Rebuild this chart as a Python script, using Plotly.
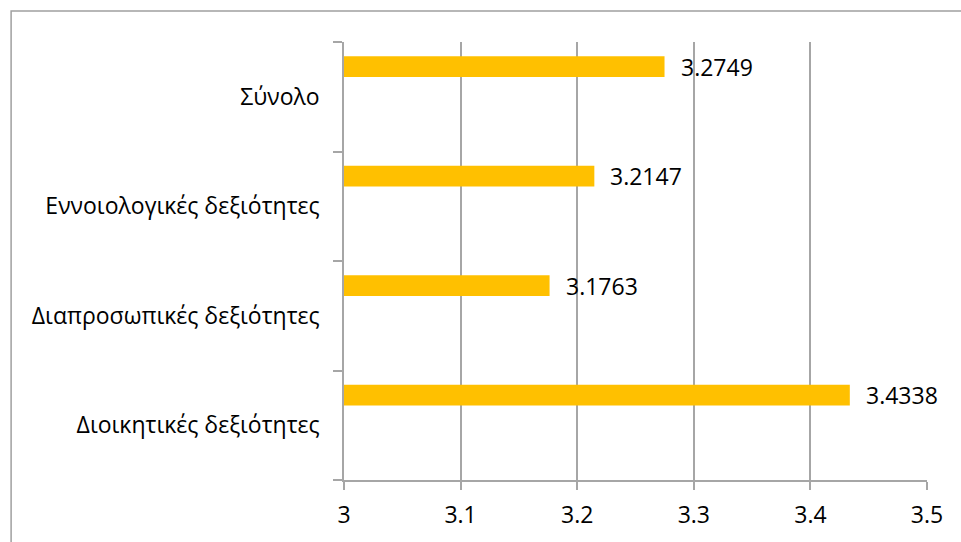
import plotly.graph_objects as go

# Skill categories (bottom to top) and their mean scores
categories = [
    "Διοικητικές δεξιότητες",
    "Διαπροσωπικές δεξιότητες",
    "Εννοιολογικές δεξιότητες",
    "Σύνολο",
]
scores = [3.4338, 3.1763, 3.2147, 3.2749]
x_ticks = [3, 3.1, 3.2, 3.3, 3.4, 3.5]

BAR_COLOR = "#FFC000"
GRID_COLOR = "#A6A6A6"
FONT = "Open Sans, Liberation Sans, sans-serif"
FONT_SIZE = 23
BAR_OFFSET = 0.18   # bar sits in the upper part of each category band
BAR_WIDTH = 0.19

fig = go.Figure()
fig.add_trace(go.Bar(
    x=scores,
    y=categories,
    orientation="h",
    marker=dict(color=BAR_COLOR, line=dict(width=0)),
    offset=BAR_OFFSET,
    width=BAR_WIDTH,
    hoverinfo="x+y",
))

# Value labels placed just to the right of each bar end
for i, v in enumerate(scores):
    fig.add_annotation(
        x=v, y=i + BAR_OFFSET + BAR_WIDTH / 2,
        xref="x", yref="y",
        text=f"{v:.4f}",
        showarrow=False,
        xanchor="left", yanchor="middle",
        xshift=14,
        font=dict(family=FONT, size=FONT_SIZE, color="#000000"),
    )

# Outer chart frame
fig.add_shape(
    type="rect", xref="paper", yref="paper",
    x0=-0.571, x1=1.3, y0=-0.4, y1=1.0705,
    line=dict(color="#A0A0A0", width=1.5),
    fillcolor="rgba(0,0,0,0)", layer="below",
)

fig.update_layout(
    width=961, height=542,
    margin=dict(l=344, r=34, t=42, b=60),
    paper_bgcolor="white",
    plot_bgcolor="white",
    showlegend=False,
    font=dict(family=FONT, size=FONT_SIZE, color="#000000"),
    xaxis=dict(
        range=[3, 3.5],
        tickvals=x_ticks,
        ticktext=[f"{t:g}" for t in x_ticks],
        showgrid=True, gridcolor=GRID_COLOR, gridwidth=1.5,
        showline=True, linecolor=GRID_COLOR, linewidth=1.5,
        ticks="outside", ticklen=8, tickcolor=GRID_COLOR, tickwidth=1.5,
        zeroline=False,
        ticklabelstandoff=6,
        tickfont=dict(family=FONT, size=FONT_SIZE, color="#000000"),
    ),
    yaxis=dict(
        type="category",
        categoryorder="array", categoryarray=categories,
        range=[-0.5, 3.5],
        showgrid=False,
        showline=True, linecolor=GRID_COLOR, linewidth=1.5,
        ticks="outside", ticklen=9, tickcolor=GRID_COLOR, tickwidth=1.5,
        tickson="boundaries",
        ticklabelstandoff=18,
        zeroline=False,
        tickfont=dict(family=FONT, size=FONT_SIZE, color="#000000"),
    ),
)

fig.write_html("out.html")
